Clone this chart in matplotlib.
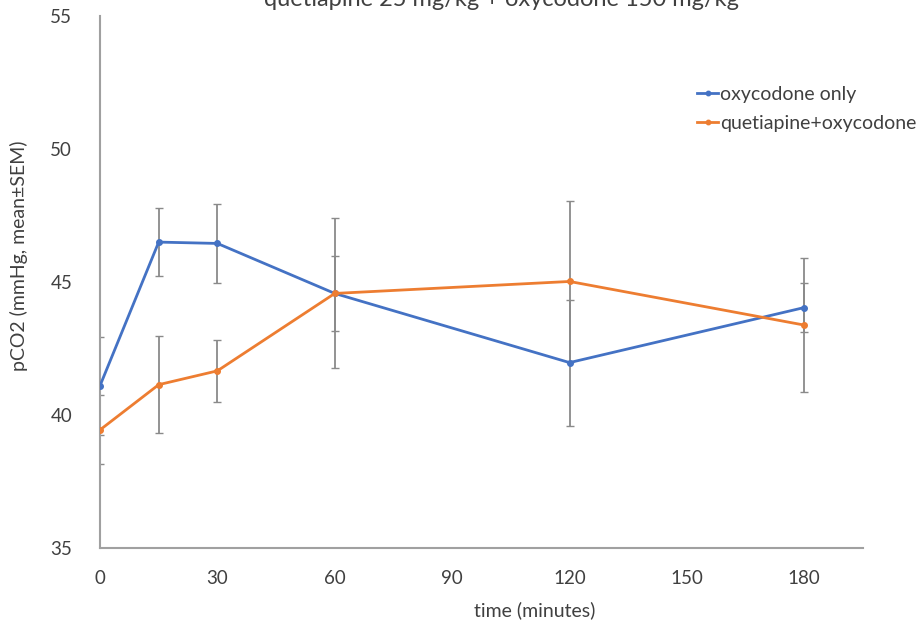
import matplotlib
matplotlib.use('Agg')
import matplotlib.pyplot as plt

plt.rcParams['font.family'] = ['Lato', 'DejaVu Sans']

time = [0, 15, 30, 60, 120, 180]

oxy_mean = [41.1, 46.5, 46.45, 44.57, 41.97, 44.04]
oxy_sem = [1.84, 1.27, 1.5, 2.82, 2.37, 0.92]

que_mean = [39.44, 41.14, 41.66, 44.57, 45.02, 43.38]
que_sem = [1.3, 1.82, 1.16, 1.4, 3.02, 2.53]

labels = ['oxycodone only', 'quetiapine+oxycodone']
colors = ['#4472C4', '#ED7D31']

fig = plt.figure(figsize=(9.21, 6.29), dpi=100)
ax = fig.add_axes([100 / 921, (629 - 548) / 629, (863 - 100) / 921, (548 - 16) / 629])

# error bars first, grey, under the lines
for m, s in [(oxy_mean, oxy_sem), (que_mean, que_sem)]:
    ax.errorbar(time, m, yerr=s, fmt='none', ecolor='#8a8a8a', elinewidth=1.3,
                capsize=3, capthick=1.0, zorder=2)

ax.plot(time, oxy_mean, color=colors[0], lw=2, marker='o', ms=4, label=labels[0], zorder=3)
ax.plot(time, que_mean, color=colors[1], lw=2, marker='o', ms=4, label=labels[1], zorder=4)

ax.set_xlim(0, 195)
ax.set_ylim(35, 55)
ax.set_xticks([0, 30, 60, 90, 120, 150, 180])
ax.set_yticks([35, 40, 45, 50, 55])

for side in ['top', 'right']:
    ax.spines[side].set_visible(False)
for side in ['left', 'bottom']:
    ax.spines[side].set_color('#a0a0a0')
    ax.spines[side].set_linewidth(1.5)
ax.tick_params(length=0, labelsize=13.5, labelcolor='#404040', pad=16)
ax.tick_params(axis='y', pad=20)

ax.set_xlabel('time (minutes)', fontsize=14, color='#404040')
ax.set_ylabel('pCO2 (mmHg, mean±SEM)', fontsize=14, color='#404040')
ax.xaxis.set_label_coords(0.57, -0.10)
ax.yaxis.set_label_coords(-0.094, 0.549)

# title is cut off at the top of the image
fig.text(0.545, 1.0, 'quetiapine 25 mg/kg + oxycodone 150 mg/kg', ha='center', va='center',
         fontsize=17, color='#404040')

ax.legend(loc='upper left', bbox_to_anchor=(697 / 921, 1 - 86 / 629),
          bbox_transform=fig.transFigure, frameon=False, fontsize=14,
          borderpad=0, borderaxespad=0,
          handlelength=1.08, handletextpad=0.1, labelspacing=0.6, markerscale=0.8,
          labelcolor='#404040')

fig.savefig('out.png', dpi=100)
